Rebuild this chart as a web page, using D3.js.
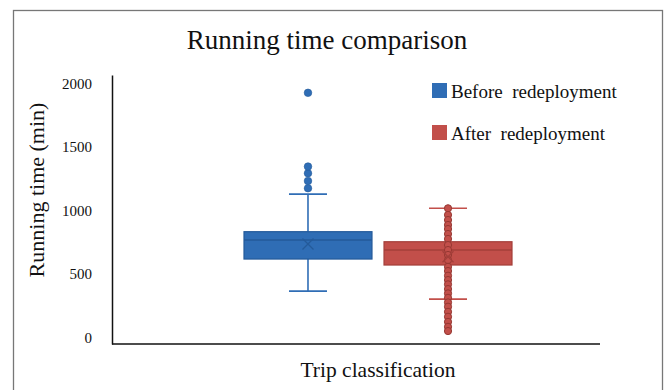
<!DOCTYPE html>
<html>
<head>
<meta charset="utf-8">
<script src="https://cdn.jsdelivr.net/npm/d3@7"></script>
<style>
  body { margin: 0; background: #fff; }
  svg text { font-family: "Liberation Serif", "Times New Roman", serif; fill: #111; }
</style>
</head>
<body>
<div id="chart"></div>
<script>
// Data (minutes)
const seriesNames = ["Before  redeployment", "After  redeployment"];
const seriesColors = ["#2f6db5", "#c24f4a"];
const seriesEdges  = ["#245a9a", "#a33f3a"];
const whiskerLow  = [366, 303];
const q1          = [618, 571];
const medians     = [768, 689];
const q3          = [833, 754];
const whiskerHigh = [1128, 1017];
const means       = [736, 636];
const beforeOutliers = [1175, 1232, 1293, 1345, 1925];
const afterPoints = [1017, 965, 925, 886, 854, 815, 776, 728, 689, 650, 610, 557,
                     524, 487, 453, 419, 382, 348, 313, 277, 243, 203, 164, 124, 85, 52];
const yTicks = [0, 500, 1000, 1500, 2000];

const width = 667, height = 390;
const plot = { left: 112, right: 600, top: 75, bottom: 344 };

const svg = d3.select("#chart").append("svg")
  .attr("width", width)
  .attr("height", height);

// outer frame
svg.append("rect")
  .attr("x", 13.5).attr("y", 10.5)
  .attr("width", 649).attr("height", 390)
  .attr("fill", "none")
  .attr("stroke", "#777")
  .attr("stroke-width", 1.3);

// title
svg.append("text")
  .attr("x", 327).attr("y", 49)
  .attr("text-anchor", "middle")
  .style("font-size", "27px")
  .text("Running time comparison");

// scales
const y = d3.scaleLinear().domain([-50, 2065]).range([plot.bottom, plot.top]);
const x = d3.scaleBand()
  .domain(seriesNames)
  .range([244, 512])
  .paddingInner(0.086)
  .paddingOuter(0);
const bw = x.bandwidth();
const cx = i => x(seriesNames[i]) + bw / 2;

// y axis
const yAxis = svg.append("g")
  .attr("transform", `translate(${plot.left},0)`)
  .call(d3.axisLeft(y).tickValues(yTicks).tickFormat(d3.format("d")).tickSize(0).tickPadding(20));
yAxis.select(".domain").attr("stroke", "#111").attr("stroke-width", 1.5);
yAxis.selectAll("text")
  .style("font-size", "15px")
  .style("font-family", "'Liberation Serif', serif")
  .attr("fill", "#111");

// x axis line
svg.append("line")
  .attr("x1", plot.left).attr("x2", plot.right)
  .attr("y1", plot.bottom).attr("y2", plot.bottom)
  .attr("stroke", "#111").attr("stroke-width", 1.6);

// axis titles
svg.append("text")
  .attr("transform", "rotate(-90)")
  .attr("x", -190).attr("y", 44)
  .attr("text-anchor", "middle")
  .style("font-size", "22px")
  .text("Running time (min)");

svg.append("text")
  .attr("x", 378).attr("y", 377)
  .attr("text-anchor", "middle")
  .style("font-size", "21.5px")
  .text("Trip classification");

// boxes
const capW = 38;
seriesNames.forEach((name, i) => {
  const g = svg.append("g");
  const c = cx(i);
  const col = seriesColors[i], edge = seriesEdges[i];

  // whisker stems
  g.append("line")
    .attr("x1", c).attr("x2", c)
    .attr("y1", y(q3[i])).attr("y2", y(whiskerHigh[i]))
    .attr("stroke", col).attr("stroke-width", 1.6);
  g.append("line")
    .attr("x1", c).attr("x2", c)
    .attr("y1", y(q1[i])).attr("y2", y(whiskerLow[i]))
    .attr("stroke", col).attr("stroke-width", 1.6);

  // caps
  [whiskerHigh[i], whiskerLow[i]].forEach(v => {
    g.append("line")
      .attr("x1", c - capW / 2).attr("x2", c + capW / 2)
      .attr("y1", y(v)).attr("y2", y(v))
      .attr("stroke", col).attr("stroke-width", 1.6);
  });

  // box
  g.append("rect")
    .attr("x", x(name)).attr("width", bw)
    .attr("y", y(q3[i])).attr("height", y(q1[i]) - y(q3[i]))
    .attr("fill", col)
    .attr("stroke", edge).attr("stroke-width", 1.2);

  // median
  g.append("line")
    .attr("x1", x(name)).attr("x2", x(name) + bw)
    .attr("y1", y(medians[i])).attr("y2", y(medians[i]))
    .attr("stroke", edge).attr("stroke-width", 1.5);
});

// red inner points and outliers
svg.selectAll(".after-dot")
  .data(afterPoints)
  .join("circle")
    .attr("class", "after-dot")
    .attr("cx", cx(1))
    .attr("cy", d => y(d))
    .attr("r", 3.6)
    .attr("fill", seriesColors[1])
    .attr("stroke", "#963832")
    .attr("stroke-width", 1);

// blue outliers
svg.selectAll(".before-dot")
  .data(beforeOutliers)
  .join("circle")
    .attr("class", "before-dot")
    .attr("cx", cx(0))
    .attr("cy", d => y(d))
    .attr("r", 3.8)
    .attr("fill", seriesColors[0])
    .attr("stroke", seriesEdges[0])
    .attr("stroke-width", 0.6);

// mean markers
means.forEach((m, i) => {
  const c = cx(i), yy = y(m), s = 5.5;
  svg.append("path")
    .attr("d", `M${c - s},${yy - s}L${c + s},${yy + s}M${c - s},${yy + s}L${c + s},${yy - s}`)
    .attr("stroke", seriesEdges[i])
    .attr("stroke-width", 1.3)
    .attr("fill", "none");
});

// legend
const legend = svg.append("g").attr("transform", "translate(432,83)");
seriesNames.forEach((name, i) => {
  legend.append("rect")
    .attr("x", 0).attr("y", i * 42)
    .attr("width", 15).attr("height", 15)
    .attr("fill", seriesColors[i]);
  legend.append("text")
    .attr("x", 19).attr("y", i * 42 + 15)
    .attr("xml:space", "preserve")
    .style("white-space", "pre")
    .style("font-size", "19px")
    .text(name);
});
</script>
</body>
</html>
